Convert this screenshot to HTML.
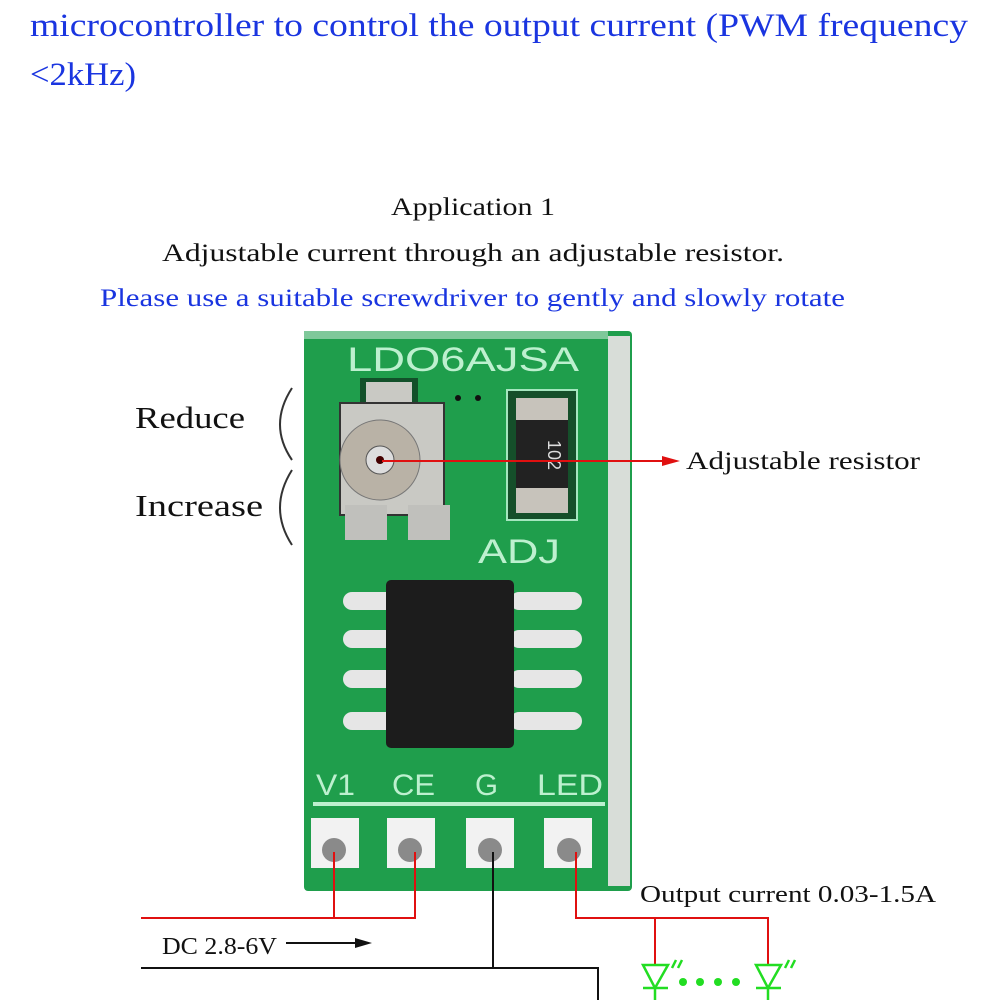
<!DOCTYPE html>
<html><head><style>body{margin:0;background:#fff}svg{display:block}</style></head><body>
<svg width="1000" height="1000" viewBox="0 0 1000 1000" xmlns="http://www.w3.org/2000/svg" font-family="Liberation Serif, serif">
<rect width="1000" height="1000" fill="#fff"/>
<g fill="#1a35e0">
<text x="30" y="36" font-size="33" textLength="938" lengthAdjust="spacingAndGlyphs">microcontroller to control the output current (PWM frequency</text>
<text x="30" y="85" font-size="33" textLength="106" lengthAdjust="spacingAndGlyphs">&lt;2kHz)</text>
<text x="100" y="306" font-size="25" textLength="745" lengthAdjust="spacingAndGlyphs">Please use a suitable screwdriver to gently and slowly rotate</text>
</g>
<g fill="#111">
<text x="391" y="215" font-size="25" textLength="164" lengthAdjust="spacingAndGlyphs">Application 1</text>
<text x="162" y="261" font-size="25" textLength="622" lengthAdjust="spacingAndGlyphs">Adjustable current through an adjustable resistor.</text>
<text x="135" y="428" font-size="31" textLength="110" lengthAdjust="spacingAndGlyphs">Reduce</text>
<text x="135" y="516" font-size="31" textLength="128" lengthAdjust="spacingAndGlyphs">Increase</text>
<text x="686" y="469" font-size="25" textLength="234" lengthAdjust="spacingAndGlyphs">Adjustable resistor</text>
<text x="640" y="902" font-size="24" textLength="296" lengthAdjust="spacingAndGlyphs">Output current 0.03-1.5A</text>
<text x="162" y="954" font-size="24" textLength="115" lengthAdjust="spacingAndGlyphs">DC 2.8-6V</text>
</g>
<path d="M292 388 Q268 425 292 460" fill="none" stroke="#333" stroke-width="2"/>
<path d="M292 470 Q268 508 292 545" fill="none" stroke="#333" stroke-width="2"/>
<rect x="304" y="331" width="328" height="560" rx="4" fill="#1f9e4c"/>
<rect x="608" y="336" width="22" height="550" fill="#d8ddd8"/>
<rect x="304" y="331" width="304" height="8" fill="#7fc89a"/>
<text x="347" y="371" font-family="Liberation Sans, sans-serif" font-size="34" fill="#bdf0cf" textLength="232" lengthAdjust="spacingAndGlyphs">LDO6AJSA</text>
<text x="478" y="563" font-family="Liberation Sans, sans-serif" font-size="34" fill="#bdf0cf" textLength="82" lengthAdjust="spacingAndGlyphs">ADJ</text>
<rect x="360" y="378" width="58" height="30" fill="#12502a"/>
<rect x="366" y="382" width="46" height="22" fill="#c9c9c4"/>
<rect x="340" y="403" width="104" height="112" fill="#c9c9c4" stroke="#333" stroke-width="2"/>
<circle cx="380" cy="460" r="40" fill="#b9b2a6" stroke="#777"/>
<circle cx="380" cy="460" r="14" fill="#ddd" stroke="#555"/>
<circle cx="380" cy="460" r="4" fill="#400"/>
<rect x="345" y="505" width="42" height="35" fill="#c0c0bc"/>
<rect x="408" y="505" width="42" height="35" fill="#c0c0bc"/>
<rect x="507" y="390" width="70" height="130" fill="#154f2a" stroke="#a5e6bf" stroke-width="2"/>
<rect x="516" y="398" width="52" height="115" fill="#c7c3bb"/>
<rect x="516" y="420" width="52" height="68" fill="#222"/>
<text x="0" y="0" transform="translate(548,455) rotate(90)" text-anchor="middle" font-family="Liberation Sans, sans-serif" font-size="18" fill="#ddd">102</text>
<circle cx="458" cy="398" r="3" fill="#111"/><circle cx="478" cy="398" r="3" fill="#111"/>
<g fill="#e6e6e6">
<rect x="343" y="592" width="60" height="18" rx="9"/><rect x="343" y="630" width="60" height="18" rx="9"/>
<rect x="343" y="670" width="60" height="18" rx="9"/><rect x="343" y="712" width="60" height="18" rx="9"/>
<rect x="510" y="592" width="72" height="18" rx="9"/><rect x="510" y="630" width="72" height="18" rx="9"/>
<rect x="510" y="670" width="72" height="18" rx="9"/><rect x="510" y="712" width="72" height="18" rx="9"/>
</g>
<rect x="386" y="580" width="128" height="168" rx="5" fill="#1c1c1c"/>
<g font-family="Liberation Sans, sans-serif" font-size="30" fill="#bdf0cf">
<text x="316" y="795" textLength="39" lengthAdjust="spacingAndGlyphs">V1</text>
<text x="392" y="795" textLength="43" lengthAdjust="spacingAndGlyphs">CE</text>
<text x="475" y="795" textLength="23" lengthAdjust="spacingAndGlyphs">G</text>
<text x="537" y="795" textLength="66" lengthAdjust="spacingAndGlyphs">LED</text>
</g>
<rect x="313" y="802" width="292" height="4" fill="#bdf0cf"/>
<g fill="#f2f2f2"><rect x="311" y="818" width="48" height="50"/><rect x="387" y="818" width="48" height="50"/><rect x="466" y="818" width="48" height="50"/><rect x="544" y="818" width="48" height="50"/></g>
<g fill="#8a8a8a"><circle cx="334" cy="850" r="12"/><circle cx="410" cy="850" r="12"/><circle cx="490" cy="850" r="12"/><circle cx="569" cy="850" r="12"/></g>
<g fill="none" stroke-width="2">
<path d="M382 461 H662" stroke="#e01010"/>
<path d="M334 852 V918 M141 918 H415 V852" stroke="#e01010"/>
<path d="M576 852 V918 H768 V965 M655 918 V965" stroke="#e01010"/>
<path d="M493 852 V968 M141 968 H598 V1000" stroke="#111"/>
<path d="M286 943 H355" stroke="#111"/>
</g>
<polygon points="662,456 680,461 662,466" fill="#e01010"/>
<polygon points="355,938 372,943 355,948" fill="#111"/>
<g stroke="#22dd22" stroke-width="2.5" fill="none">
<path d="M643 965 H668 L655 988 Z M643 988 H668 M655 988 V1000"/>
<path d="M756 965 H781 L768 988 Z M756 988 H781 M768 988 V1000"/>
<path d="M672 968 l4 -8 M678 968 l4 -8 M785 968 l4 -8 M791 968 l4 -8"/>
</g>
<g fill="#22dd22"><circle cx="683" cy="982" r="4"/><circle cx="700" cy="982" r="4"/><circle cx="718" cy="982" r="4"/><circle cx="736" cy="982" r="4"/></g>
</svg>
</body></html>
